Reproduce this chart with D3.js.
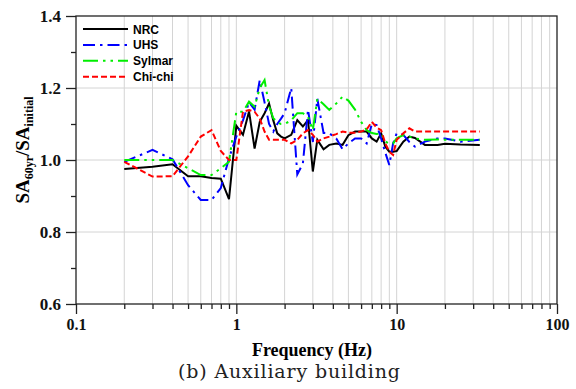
<!DOCTYPE html>
<html>
<head>
<meta charset="utf-8">
<script src="https://cdn.jsdelivr.net/npm/d3@7"></script>
<style>
  body { margin: 0; background: #fff; }
  svg { display: block; }
</style>
</head>
<body>
<svg id="chart" width="576" height="389"></svg>
<script>
// frequencies (Hz) shared by all four curves
const freq = [0.2, 0.3, 0.4, 0.5, 0.6, 0.7, 0.8, 0.9, 1.0, 1.1, 1.2, 1.3, 1.4, 1.5, 1.6, 1.7, 1.8, 1.9, 2.0,
              2.2, 2.4, 2.6, 2.8, 3.0, 3.2, 3.5, 3.8, 4.2, 4.6, 5.0, 5.5, 6.0, 6.5, 7.0, 7.5, 8.0, 8.5, 9.0, 9.5,
              10, 11, 12, 13, 15, 18, 20, 25, 33];

const nrc = [0.975, 0.981, 0.988, 0.955, 0.955, 0.950, 0.948, 0.891, 1.095, 1.070, 1.135, 1.032, 1.106, 1.130, 1.157, 1.110, 1.074, 1.065, 1.060,
             1.070, 1.111, 1.093, 1.111, 0.968, 1.056, 1.030, 1.042, 1.046, 1.042, 1.069, 1.079, 1.079, 1.079, 1.060, 1.051, 1.074, 1.037, 1.023, 1.023,
             1.025, 1.051, 1.065, 1.061, 1.042, 1.042, 1.045, 1.043, 1.042];

const uhs = [0.995, 1.028, 1.002, 0.930, 0.889, 0.889, 0.922, 1.005, 1.065, 1.110, 1.160, 1.140, 1.222, 1.160, 1.100, 1.079, 1.100, 1.115, 1.130,
             1.200, 0.960, 0.990, 1.140, 1.050, 1.170, 1.075, 1.074, 1.060, 1.030, 1.046, 1.060, 1.060, 1.046, 1.100, 1.097, 1.060, 1.020, 0.986, 1.046,
             1.074, 1.070, 1.050, 1.037, 1.051, 1.060, 1.060, 1.051, 1.056];

const sylmar = [1.000, 1.000, 1.000, 0.977, 0.958, 0.958, 0.977, 0.995, 1.134, 1.134, 1.162, 1.148, 1.200, 1.222, 1.150, 1.116, 1.105, 1.100, 1.100,
                1.110, 1.130, 1.130, 1.120, 1.083, 1.170, 1.155, 1.139, 1.157, 1.176, 1.165, 1.140, 1.106, 1.083, 1.075, 1.072, 1.074, 1.051, 1.046, 1.046,
                1.060, 1.069, 1.065, 1.060, 1.056, 1.057, 1.056, 1.056, 1.056];

const chichi = [0.995, 0.954, 0.955, 1.010, 1.065, 1.083, 1.025, 1.000, 1.000, 1.134, 1.139, 1.134, 1.115, 1.079, 1.056, 1.056, 1.056, 1.056, 1.056,
                1.046, 1.056, 1.074, 1.083, 1.070, 1.051, 1.060, 1.065, 1.072, 1.079, 1.076, 1.076, 1.079, 1.085, 1.106, 1.090, 1.083, 1.046, 1.023, 1.014,
                1.056, 1.074, 1.088, 1.079, 1.079, 1.079, 1.079, 1.079, 1.079];

const seriesNames = ["NRC", "UHS", "Sylmar", "Chi-chi"];
const xMajor = [0.1, 1, 10, 100];
const yMajor = [0.6, 0.8, 1.0, 1.2, 1.4];
const yMinor = [0.7, 0.9, 1.1, 1.3];

const svg = d3.select("#chart");
const plotLeft = 76, plotRight = 557, plotTop = 16, plotBottom = 304;

const x = d3.scaleLog().domain([0.1, 100]).range([plotLeft, plotRight]);
const y = d3.scaleLinear().domain([0.6, 1.4]).range([plotBottom, plotTop]);

// minor decade values 0.2..0.9, 2..9, 20..90
let xMinor = [];
[0.1, 1, 10].forEach(function(d) {
    for (let k = 2; k <= 9; k++) xMinor.push(+(d * k).toFixed(2));
});

// grid
svg.append("g").selectAll("line")
    .data(xMinor.concat([1, 10]))
    .enter().append("line")
    .attr("x1", d => x(d)).attr("x2", d => x(d))
    .attr("y1", plotTop).attr("y2", plotBottom)
    .style("stroke", "#d4d4d4").style("stroke-width", 1);

svg.append("g").selectAll("line")
    .data([0.8, 1.0, 1.2])
    .enter().append("line")
    .attr("x1", plotLeft).attr("x2", plotRight)
    .attr("y1", d => y(d)).attr("y2", d => y(d))
    .style("stroke", "#d4d4d4").style("stroke-width", 1);

// the curves
const styles = [
    {data: nrc, color: "#000000", dash: null},
    {data: uhs, color: "#0000ff", dash: "12,5,2.5,5"},
    {data: sylmar, color: "#00ee00", dash: "15,5,2.5,5,2.5,5"},
    {data: chichi, color: "#ff0000", dash: "6,3"}
];

const line = d3.line()
    .x((d, i) => x(freq[i]))
    .y(d => y(d));

styles.forEach(function(s) {
    svg.append("path")
        .attr("d", line(s.data))
        .style("fill", "none")
        .style("stroke", s.color)
        .style("stroke-width", 2)
        .style("stroke-dasharray", s.dash);
});

// frame
svg.append("rect")
    .attr("x", plotLeft).attr("y", plotTop)
    .attr("width", plotRight - plotLeft).attr("height", plotBottom - plotTop)
    .style("fill", "none").style("stroke", "#222").style("stroke-width", 1.3);

// axes
const tickFont = "'Liberation Serif', 'Times New Roman', serif";

const xAxis = svg.append("g")
    .attr("transform", "translate(0," + plotBottom + ")")
    .call(d3.axisBottom(x).tickValues(xMajor).tickSize(10).tickPadding(5).tickFormat(d3.format("")));
xAxis.selectAll("text").style("font", "bold 16px " + tickFont).style("fill", "#111");

svg.append("g")
    .attr("transform", "translate(0," + plotBottom + ")")
    .call(d3.axisBottom(x).tickValues(xMinor).tickSize(5).tickFormat(""));

const yAxis = svg.append("g")
    .attr("transform", "translate(" + plotLeft + ",0)")
    .call(d3.axisLeft(y).tickValues(yMajor).tickSize(10).tickPadding(5).tickFormat(d3.format(".1f")));
yAxis.selectAll("text").style("font", "bold 17px " + tickFont).style("fill", "#111");

svg.append("g")
    .attr("transform", "translate(" + plotLeft + ",0)")
    .call(d3.axisLeft(y).tickValues(yMinor).tickSize(5).tickFormat(""));

svg.selectAll(".domain").remove();
svg.selectAll(".tick line").style("stroke", "#222").style("stroke-width", 1.3);

// axis titles
svg.append("text")
    .attr("x", 312).attr("y", 356)
    .attr("text-anchor", "middle")
    .style("font", "bold 18px " + tickFont)
    .text("Frequency (Hz)");

let yTitle = svg.append("text")
    .attr("transform", "translate(29,150) rotate(-90)")
    .attr("text-anchor", "middle")
    .style("font", "bold 19px " + tickFont);
yTitle.append("tspan").text("SA");
yTitle.append("tspan").attr("dy", 4).style("font-size", "12px").text("60yr");
yTitle.append("tspan").attr("dy", -4).text("/SA");
yTitle.append("tspan").attr("dy", 4).style("font-size", "12px").text("initial");

// legend
const legend = svg.append("g");
seriesNames.forEach(function(name, i) {
    let yy = 29 + i * 15.9;
    legend.append("line")
        .attr("x1", 83).attr("x2", 128)
        .attr("y1", yy).attr("y2", yy)
        .style("stroke", styles[i].color)
        .style("stroke-width", 2)
        .style("stroke-dasharray", styles[i].dash);
    legend.append("text")
        .attr("x", 133).attr("y", yy + 4.5)
        .style("font", "bold 12px 'Liberation Sans', Arial, sans-serif")
        .text(name);
});

// caption
svg.append("text")
    .attr("x", 289).attr("y", 378)
    .attr("text-anchor", "middle")
    .attr("textLength", 222)
    .attr("lengthAdjust", "spacing")
    .style("font", "19px 'DejaVu Serif', serif")
    .style("fill", "#222")
    .text("(b) Auxiliary building");
</script>
</body>
</html>
